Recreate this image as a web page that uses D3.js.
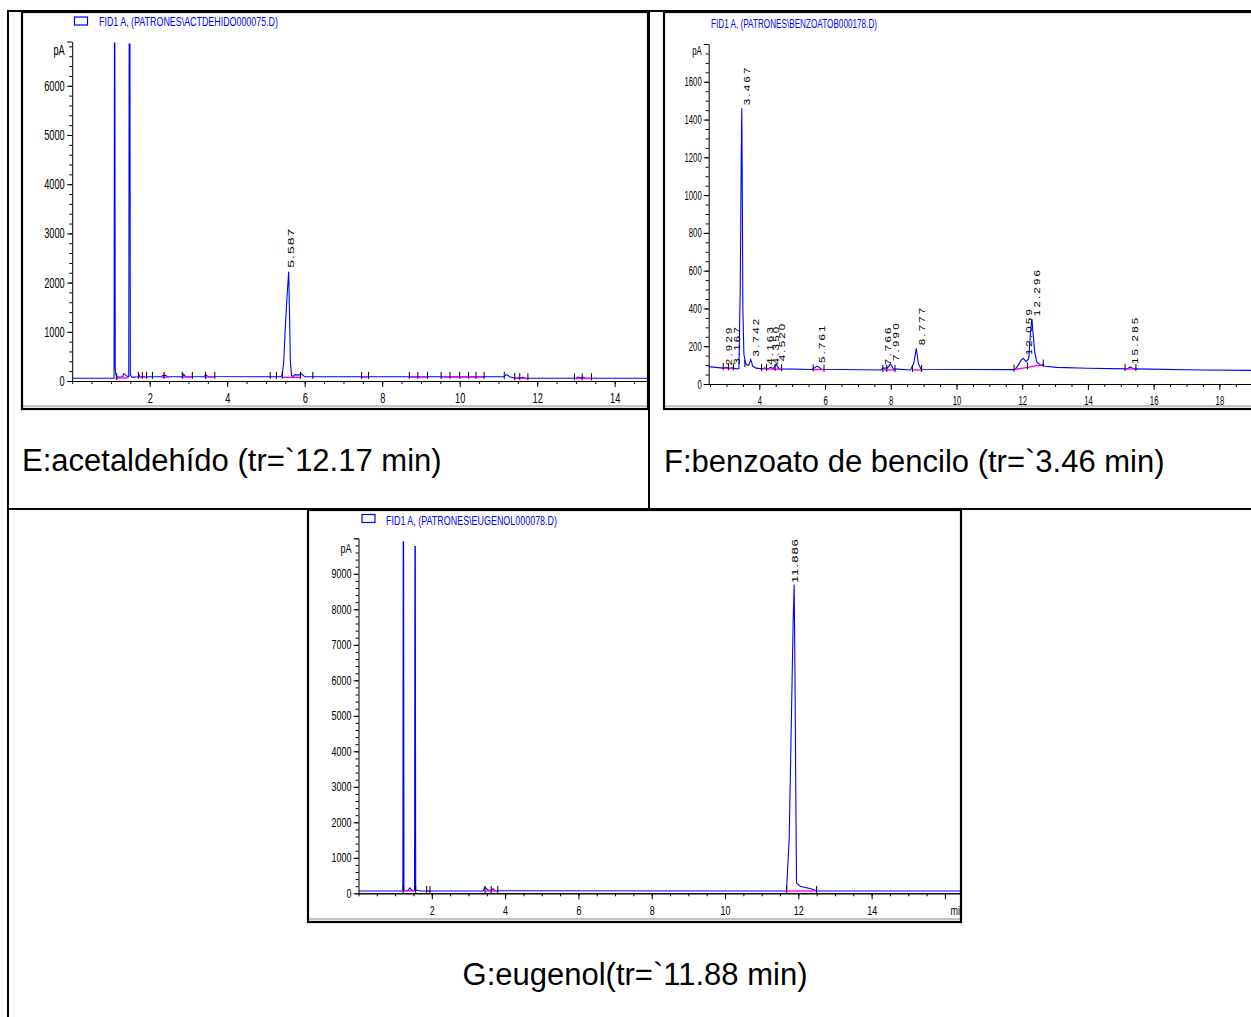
<!DOCTYPE html>
<html><head><meta charset="utf-8">
<script src="https://cdn.jsdelivr.net/npm/d3@7"></script>
<style>
html,body{margin:0;padding:0;background:#fff;}
svg{display:block;}
</style></head><body>
<svg id="chart" width="1251" height="1017"></svg>
<script>
// ---------- E: acetaldehído (FID1 A, ACTDEHIDO000075.D) ----------
const timeE   = [0,1.08,1.09,1.10,1.11,1.13,1.16,1.30,1.33,1.38,1.43,1.46,1.47,1.49,1.50,1.55,1.70,1.72,1.75,2.30,2.35,2.42,2.46,2.85,2.88,2.92,3.40,3.45,3.50,5.38,5.42,5.46,5.50,5.55,5.587,5.61,5.63,5.66,5.70,5.75,5.85,5.92,6.00,11.15,11.20,11.25,11.30,11.45,11.60,11.62,11.70,13.00,13.05,13.10,13.18,13.25,14.88];
const signalE = [55,55,6870,6870,250,120,80,80,150,120,90,90,6850,6850,120,75,85,130,85,85,120,110,85,85,140,90,85,130,90,85,120,400,1100,1800,2220,1300,400,110,90,130,120,150,85,85,130,110,80,60,70,75,55,55,80,60,80,55,55];
const peakTimeE  = [5.587];
const peakValueE = [2220];
const peakLabelE = ["5.587"];
const eventsE = [[1.15,60],[1.71,85],[1.81,85],[1.92,85],[2.07,85],[2.37,85],[2.84,85],[3.10,85],[3.44,85],[3.68,85],[5.11,85],[5.27,85],[5.42,85],[5.89,85],[6.21,85],[7.47,85],[7.65,85],[8.70,85],[8.92,85],[9.17,85],[9.52,85],[9.75,85],[10.0,85],[10.23,85],[10.42,85],[10.63,85],[11.15,85],[11.42,60],[11.55,60],[11.76,55],[12.96,55],[13.16,55],[13.40,55]];
const baselinesE = [[1.12,62,1.45,62],[1.70,80,1.95,80],[2.30,80,2.50,80],[2.85,80,3.10,80],[3.42,80,3.68,80],[5.42,75,5.89,75],[7.47,80,7.65,80],[8.70,80,9.17,80],[9.52,80,10.0,80],[10.0,80,10.42,80],[10.42,80,10.63,80],[11.42,52,11.76,52],[12.96,52,13.40,52]];
const xTicksE = [2,4,6,8,10,12,14];
const yTicksE = [0,1000,2000,3000,4000,5000,6000];

// ---------- F: benzoato de bencilo (FID1 A, BENZOATOB000178.D) ----------
const timeF   = [2.46,2.90,3.00,3.10,3.17,3.30,3.38,3.42,3.45,3.467,3.48,3.50,3.53,3.58,3.63,3.68,3.74,3.80,3.90,4.10,4.16,4.25,4.35,4.42,4.52,4.60,5.60,5.76,5.90,7.70,7.77,7.90,7.99,8.08,8.60,8.70,8.777,8.84,8.92,11.78,11.88,11.96,12.03,12.12,12.20,12.25,12.296,12.33,12.38,12.44,12.55,12.70,13.05,14.00,15.20,15.285,15.40,17.50,19.30];
const signalF = [92,84,88,82,86,80,82,500,1200,1460,1100,400,160,110,100,100,130,95,84,80,86,80,88,82,104,80,77,95,78,74,84,85,106,80,74,110,189,110,78,76,100,125,136,118,135,270,343,270,170,118,100,94,88,83,80,90,80,74,72];
const peakTimeF  = [2.929,3.167,3.467,3.742,4.163,4.350,4.520,5.761,7.766,7.990,8.777,12.059,12.296,15.285];
const peakValueF = [84,86,1460,130,86,88,104,95,84,106,189,136,343,90];
const peakLabelF = ["2.929","3.167","3.467","3.742","4.163","4.350","4.520","5.761","7.766","7.990","8.777","12.059","12.296","15.285"];
const eventsF = [[2.90,84],[3.06,84],[3.21,82],[3.56,100],[4.07,80],[4.22,80],[4.48,80],[4.68,78],[5.64,77],[5.97,76],[7.76,75],[7.88,75],[8.13,74],[8.66,74],[8.94,74],[11.75,76],[12.16,88],[12.64,103],[15.13,80],[15.46,79]];
const baselinesF = [[2.90,84,3.21,82],[4.07,80,4.68,78],[5.64,77,5.97,76],[7.76,75,8.13,74],[8.66,74,8.94,74],[11.75,76,12.16,88],[12.16,88,12.64,103],[15.13,80,15.46,79]];
const xTicksF = [4,6,8,10,12,14,16,18];
const yTicksF = [0,200,400,600,800,1000,1200,1400,1600];

// ---------- G: eugenol (FID1 A, EUGENOL000078.D) ----------
const timeG   = [0,1.21,1.22,1.23,1.24,1.35,1.40,1.45,1.53,1.54,1.55,1.56,1.70,3.40,3.45,3.52,3.60,3.67,3.72,11.68,11.71,11.75,11.79,11.83,11.86,11.886,11.91,11.93,11.95,12.05,12.37,12.50,16.46];
const signalG = [65,65,9900,9900,80,80,150,90,80,9770,9770,90,65,65,170,100,80,130,70,65,750,1500,3750,6000,7700,8700,6000,3000,290,200,120,65,65];
const peakTimeG  = [11.886];
const peakValueG = [8700];
const peakLabelG = ["11.886"];
const eventsG = [[1.22,66],[1.56,66],[1.86,66],[1.95,66],[3.45,66],[3.62,66],[3.80,66],[11.68,66],[12.50,66]];
const baselinesG = [[1.24,66,1.56,66],[1.86,66,1.95,66],[3.45,66,3.80,66],[11.68,66,12.50,66]];
const xTicksG = [2,4,6,8,10,12,14];
const yTicksG = [0,1000,2000,3000,4000,5000,6000,7000,8000,9000];

const captions = ["E:acetaldehído (tr=`12.17 min)", "F:benzoato de bencilo (tr=`3.46 min)", "G:eugenol(tr=`11.88 min)"];

const svg = d3.select("#chart");
const defs = svg.append("defs");
const FONT = "'Liberation Sans', Arial, Helvetica, sans-serif";
const BLUE = "#0000ff", PINK = "#ff00ff";

// table grid
const grid = svg.append("g").attr("stroke", "#000").attr("stroke-width", 2);
[[8,10,8,1017],[7,11,1251,11],[649,11,649,509],[7,509,1251,509]].forEach(l =>
  grid.append("line").attr("x1", l[0]).attr("y1", l[1]).attr("x2", l[2]).attr("y2", l[3]));

function panel(c) {
  const clipId = "clip-" + c.id;
  defs.append("clipPath").attr("id", clipId).append("rect")
    .attr("x", c.box[0]).attr("y", c.box[1]).attr("width", c.box[2] - c.box[0]).attr("height", c.box[3] - c.box[1]);
  const root = svg.append("g");
  const g = root.append("g").attr("clip-path", `url(#${clipId})`);

  const x = d3.scaleLinear().domain(c.xDomain).range(c.xRange);
  const y = d3.scaleLinear().domain(c.yDomain).range(c.yRange);
  const sx = c.sx;

  // title + legend box
  if (c.legendBox) {
    g.append("rect").attr("x", c.legendBox[0]).attr("y", c.legendBox[1]).attr("width", 13).attr("height", 8)
      .attr("fill", "none").attr("stroke", BLUE).attr("stroke-width", 1.2);
  }
  g.append("text").attr("x", c.title[0]).attr("y", c.title[1])
    .attr("textLength", c.title[2]).attr("lengthAdjust", "spacingAndGlyphs")
    .attr("font-family", FONT).attr("font-size", c.titleSize).attr("fill", BLUE).text(c.titleText);

  const styleAxis = a => {
    a.attr("font-family", FONT).attr("font-size", c.fs);
    a.selectAll("path,line").attr("stroke", "#000").attr("stroke-width", 1);
    a.selectAll("text").attr("fill", "#000").attr("transform", `scale(${sx},1)`);
  };

  // y axis
  const yMinor = g.append("g").attr("transform", `translate(${x.range()[0]},0)`)
    .call(d3.axisLeft(y).tickValues(d3.range(0, c.yDomain[1] + 1, c.yMinor)).tickSize(3).tickSizeOuter(0).tickFormat(""));
  styleAxis(yMinor);
  yMinor.select(".domain").remove();
  const yAxis = g.append("g").attr("transform", `translate(${x.range()[0]},0)`)
    .call(d3.axisLeft(y).tickValues(c.yTicks.concat([c.yDomain[1]])).tickSize(5).tickSizeOuter(0)
      .tickPadding(c.yGap / sx - 5).tickFormat(d => d === c.yDomain[1] ? "" : d3.format("d")(d)));
  styleAxis(yAxis);
  g.append("text").attr("transform", `translate(${x.range()[0] - c.yGap},${y(c.yDomain[1]) + c.pAdy}) scale(${sx},1)`)
    .attr("text-anchor", "end").attr("dy", "0.35em").attr("font-family", FONT).attr("font-size", c.fs).text("pA");

  // x axis
  const yb = y(0);
  const xMinor = g.append("g").attr("transform", `translate(0,${yb})`)
    .call(d3.axisBottom(x).tickValues(d3.range(Math.ceil(c.xDomain[0] * 2) / 2, c.xDomain[1], 0.5)).tickSize(3).tickSizeOuter(0).tickFormat(""));
  styleAxis(xMinor);
  const xAxis = g.append("g").attr("transform", `translate(0,${yb})`)
    .call(d3.axisBottom(x).tickValues(c.xTicks.concat(c.xExtraTicks || [])).tickSize(6).tickSizeOuter(0).tickPadding(c.xPad)
      .tickFormat(d => c.xTicks.includes(d) ? d3.format("d")(d) : ""));
  styleAxis(xAxis);
  if (c.minLabel) {
    g.append("text").attr("transform", `translate(${x(c.minLabel)},${yb + 6 + c.xPad}) scale(${sx},1)`)
      .attr("dy", "0.71em").attr("font-family", FONT).attr("font-size", c.fs).text("min");
  }

  // signal trace
  const pts = c.time.map((t, i) => [t, c.signal[i]]);
  g.append("path").datum(pts)
    .attr("d", d3.line().x(d => x(d[0])).y(d => y(d[1])))
    .attr("fill", "none").attr("stroke", BLUE).attr("stroke-width", 1.1);

  // integration baselines
  g.selectAll(null).data(c.baselines).join("line")
    .attr("x1", d => x(d[0])).attr("y1", d => y(d[1])).attr("x2", d => x(d[2])).attr("y2", d => y(d[3]))
    .attr("stroke", PINK).attr("stroke-width", 1.4);

  // integration event marks
  g.selectAll(null).data(c.events).join("line")
    .attr("x1", d => x(d[0])).attr("x2", d => x(d[0]))
    .attr("y1", d => y(d[1]) - 5).attr("y2", d => y(d[1]) + 2)
    .attr("stroke", "#000").attr("stroke-width", 1);

  // retention-time labels
  g.selectAll(null).data(c.peakTime.map((t, i) => [t, c.peakValue[i], c.peakLabel[i]])).join("text")
    .attr("transform", d => `translate(${x(d[0]) + c.lblDx},${y(d[1]) - c.lblGap}) scale(${c.lblSx},1) rotate(-90)`)
    .attr("dy", "0.35em").attr("font-family", FONT).attr("font-size", c.lblSize)
    .attr("letter-spacing", c.lblSpacing).attr("fill", "#000").text(d => d[2]);

  // frame: thick black outline with grey inner rule at the bottom
  const [bx0, by0, bx1, by1] = c.box;
  const fr = root.append("g").attr("fill", "none");
  fr.append("line").attr("x1", bx0).attr("x2", bx1).attr("y1", by1 - 3).attr("y2", by1 - 3).attr("stroke", "#888").attr("stroke-width", 1);
  fr.append("rect").attr("x", bx0).attr("y", by0).attr("width", bx1 - bx0).attr("height", by1 - by0)
    .attr("stroke", "#000").attr("stroke-width", 2.2);
}

panel({
  id: "E", box: [22, 12, 648, 409],
  xDomain: [0, 14.88], xRange: [72.2, 648.8], yDomain: [0, 6900], yRange: [381, 41.5],
  xTicks: xTicksE, yTicks: yTicksE, yMinor: 200,
  time: timeE, signal: signalE, peakTime: peakTimeE, peakValue: peakValueE, peakLabel: peakLabelE,
  events: eventsE, baselines: baselinesE,
  fs: 14, sx: 0.66, yGap: 7.5, xPad: 6, pAdy: 9,
  title: [99, 26, 179], titleSize: 13.5, titleText: "FID1 A, (PATRONES\\ACTDEHIDO000075.D)", legendBox: [74.5, 17],
  lblSize: 14, lblSx: 0.7, lblSpacing: 1, lblDx: 1.5, lblGap: 4
});

panel({
  id: "F", box: [664, 12, 1256, 409],
  xDomain: [2.46, 19.3], xRange: [708.7, 1262.1], yDomain: [0, 1800], yRange: [384, 44],
  xTicks: xTicksF, yTicks: yTicksF, yMinor: 50,
  time: timeF, signal: signalF, peakTime: peakTimeF, peakValue: peakValueF, peakLabel: peakLabelF,
  events: eventsF, baselines: baselinesF,
  fs: 12.5, sx: 0.62, yGap: 7, xPad: 6, pAdy: 7,
  title: [711, 28, 166], titleSize: 12.5, titleText: "FID1 A, (PATRONES\\BENZOATOB000178.D)",
  lblSize: 11.5, lblSx: 0.8, lblSpacing: 2.2, lblDx: 5, lblGap: 3
});

panel({
  id: "G", box: [308, 510, 961, 922],
  xDomain: [0, 16.46], xRange: [358.5, 961.8], yDomain: [0, 10000], yRange: [893.3, 538.3],
  xTicks: xTicksG, xExtraTicks: [16], yTicks: yTicksG, yMinor: 200, minLabel: 16.15,
  time: timeG, signal: signalG, peakTime: peakTimeG, peakValue: peakValueG, peakLabel: peakLabelG,
  events: eventsG, baselines: baselinesG,
  fs: 13, sx: 0.69, yGap: 7, xPad: 6, pAdy: 10,
  title: [386, 525, 171], titleSize: 13, titleText: "FID1 A, (PATRONES\\EUGENOL000078.D)", legendBox: [362, 514.5],
  lblSize: 13, lblSx: 0.7, lblSpacing: 1, lblDx: 1, lblGap: 1.5
});

// captions under each chromatogram
const capPos = [[22, 471, "start"], [664, 472, "start"], [635, 985, "middle"]];
svg.selectAll(".caption").data(captions).join("text").attr("class", "caption")
  .attr("x", (d, i) => capPos[i][0]).attr("y", (d, i) => capPos[i][1]).attr("text-anchor", (d, i) => capPos[i][2])
  .attr("font-family", FONT).attr("font-size", 31).attr("fill", "#000").text(d => d);
</script>
</body></html>
